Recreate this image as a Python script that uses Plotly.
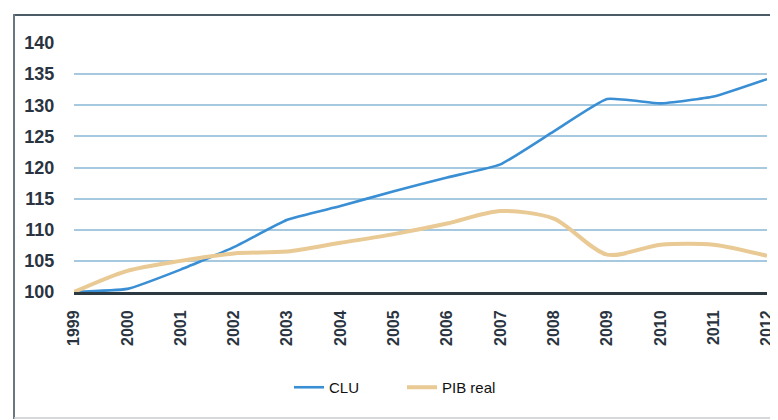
import plotly.graph_objects as go

years = [1999, 2000, 2001, 2002, 2003, 2004, 2005, 2006, 2007, 2008, 2009, 2010, 2011, 2012]
clu = [100.0, 100.5, 103.6, 107.2, 111.6, 113.8, 116.2, 118.4, 120.5, 125.8, 131.0, 130.3, 131.4, 134.2]
pib_real = [100.0, 103.4, 105.0, 106.2, 106.5, 107.9, 109.3, 111.0, 113.0, 111.8, 106.0, 107.6, 107.6, 105.8]
y_ticks = [100, 105, 110, 115, 120, 125, 130, 135, 140]

OFF = 8  # page body margin
W, H = 778 - OFF, 420 - OFF
L, T = 74 - OFF, 43 - OFF
R = W - (767 - OFF)
B = H - (292 - OFF)
pw, ph = W - L - R, H - T - B

def px_x(px):
    return (px - OFF - L) / pw

def px_y(py):
    return (H - B - (py - OFF)) / ph

fig = go.Figure()
fig.add_trace(go.Scatter(x=years, y=clu, name="CLU", mode="lines",
                         line=dict(color="#3a8fd4", width=2.6, shape="spline", smoothing=0.4)))
fig.add_trace(go.Scatter(x=years, y=pib_real, name="PIB real", mode="lines",
                         line=dict(color="#e9c994", width=4, shape="spline", smoothing=0.8)))

fig.update_layout(
    width=W, height=H,
    margin=dict(l=L, r=R, t=T, b=B, autoexpand=False),
    paper_bgcolor="white", plot_bgcolor="white",
    showlegend=True,
    legend=dict(orientation="h", x=px_x(289), xanchor="left", y=px_y(371), yanchor="top",
                entrywidth=68, entrywidthmode="pixels",
                font=dict(family="Liberation Sans Narrow, Arial Narrow, sans-serif", size=15, color="#111"),
                bgcolor="rgba(0,0,0,0)"),
    xaxis=dict(range=[1999, 2012], tickmode="array", tickvals=years,
               ticktext=[str(y) for y in years], tickangle=-90, automargin=False,
               showgrid=False, zeroline=False, showline=True, linecolor="#2d3940", linewidth=3,
               ticks="outside", ticklen=0, ticklabelstandoff=9, layer="below traces",
               tickfont=dict(family="Liberation Sans, Arial, sans-serif", size=16, color="#2a3440", weight="bold")),
    yaxis=dict(range=[100, 140], tickmode="array", tickvals=y_ticks, automargin=False,
               showgrid=True, gridcolor="#a6c9df", gridwidth=2, zeroline=False,
               ticks="outside", ticklen=0, ticklabelstandoff=15, layer="below traces",
               tickfont=dict(family="Liberation Sans, Arial, sans-serif", size=18, color="#2a3440", weight="bold")),
    shapes=[
        dict(type="line", xref="paper", yref="paper", x0=px_x(14), x1=px_x(778), y0=px_y(15), y1=px_y(15),
             line=dict(color="#4b5b66", width=2)),
        dict(type="line", xref="paper", yref="paper", x0=px_x(14), x1=px_x(14), y0=px_y(14), y1=px_y(419),
             line=dict(color="#6a7780", width=2)),
        dict(type="line", xref="paper", yref="paper", x0=px_x(14), x1=px_x(778), y0=px_y(418), y1=px_y(418),
             line=dict(color="#c9cdd0", width=1.5)),
    ],
)

fig.write_html("out.html")
